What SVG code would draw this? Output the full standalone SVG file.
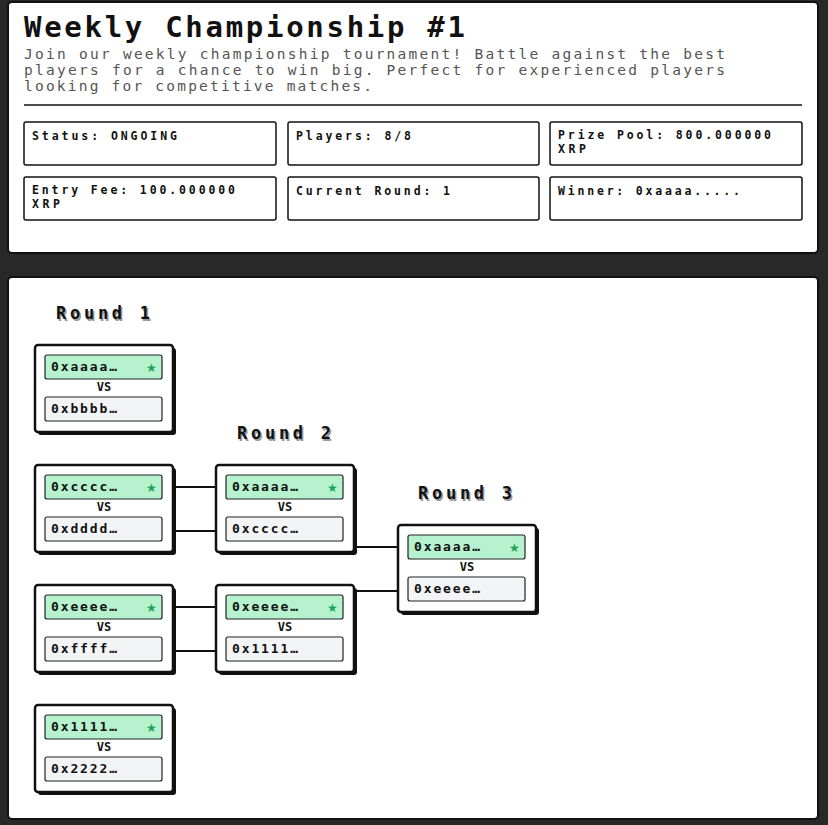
<svg xmlns="http://www.w3.org/2000/svg" width="828" height="825" viewBox="0 0 828 825">
<style>
.panel{fill:#fff;stroke:#111;stroke-width:2}
.stat{fill:#fff;stroke:#111;stroke-width:1.5}
.st{font-family:"DejaVu Sans Mono",monospace;font-weight:bold;font-size:11.5px;fill:#111}
.desc{font-family:"DejaVu Sans Mono",monospace;font-size:14.5px;fill:#555}
.rh{font-family:"DejaVu Sans Mono",monospace;font-weight:bold;font-size:17px;fill:#111}
.rhs{font-family:"DejaVu Sans Mono",monospace;font-weight:bold;font-size:17px;fill:#999}
.mb{fill:#fff;stroke:#111;stroke-width:2.5}
.sh{fill:#111}
.win{fill:#b6f2cd;stroke:#222;stroke-width:1.2}
.los{fill:#f3f4f6;stroke:#222;stroke-width:1.2}
.pt{font-family:"DejaVu Sans Mono",monospace;font-weight:bold;font-size:13px;fill:#111}
.vs{font-family:"DejaVu Sans Mono",monospace;font-weight:bold;font-size:12px;fill:#111;text-anchor:middle}
.star{font-family:"DejaVu Sans",sans-serif;font-size:12px;fill:#22a05a}
.conn line{stroke:#111;stroke-width:2}
</style>
<rect width="828" height="825" fill="#282828"/>
<g id="header">
<rect class="panel" x="8" y="2" width="810" height="251" rx="4"/>
<text x="24" y="37" font-family="DejaVu Sans Mono,monospace" font-weight="bold" font-size="29" fill="#111" textLength="441">Weekly Championship #1</text>
<text class="desc" x="24" y="59" textLength="701">Join our weekly championship tournament! Battle against the best</text>
<text class="desc" x="24" y="75" textLength="701">players for a chance to win big. Perfect for experienced players</text>
<text class="desc" x="24" y="91" textLength="348">looking for competitive matches.</text>
<line x1="24" y1="105" x2="802" y2="105" stroke="#111" stroke-width="1.5"/>
</g>
<g id="stat-status"><rect class="stat" x="24" y="122" width="252" height="43" rx="2"/><text class="st" x="32" y="140" textLength="145">Status: ONGOING</text></g>
<g id="stat-players"><rect class="stat" x="288" y="122" width="251" height="43" rx="2"/><text class="st" x="296" y="140" textLength="115">Players: 8/8</text></g>
<g id="stat-prize"><rect class="stat" x="550" y="122" width="252" height="43" rx="2"/><text class="st" x="558" y="139" textLength="213">Prize Pool: 800.000000</text><text class="st" x="558" y="153" textLength="28">XRP</text></g>
<g id="stat-fee"><rect class="stat" x="24" y="177" width="252" height="43" rx="2"/><text class="st" x="32" y="194" textLength="203">Entry Fee: 100.000000</text><text class="st" x="32" y="208" textLength="28">XRP</text></g>
<g id="stat-round"><rect class="stat" x="288" y="177" width="251" height="43" rx="2"/><text class="st" x="296" y="195" textLength="154">Current Round: 1</text></g>
<g id="stat-winner"><rect class="stat" x="550" y="177" width="252" height="43" rx="2"/><text class="st" x="558" y="195" textLength="182">Winner: 0xaaaa.....</text></g>
<g id="bracket-panel"><rect class="panel" x="8" y="277" width="810" height="542" rx="4"/></g>
<g id="round-headers">
<text class="rhs" x="57.5" y="320.5" textLength="94">Round 1</text><text class="rh" x="56" y="319" textLength="94">Round 1</text>
<text class="rhs" x="238.5" y="440.5" textLength="94">Round 2</text><text class="rh" x="237" y="439" textLength="94">Round 2</text>
<text class="rhs" x="419.5" y="500.5" textLength="94">Round 3</text><text class="rh" x="418" y="499" textLength="94">Round 3</text>
</g>
<g class="conn" id="connectors">
<line x1="174" y1="487" x2="216" y2="487"/><line x1="174" y1="531" x2="216" y2="531"/>
<line x1="174" y1="607" x2="216" y2="607"/><line x1="174" y1="651" x2="216" y2="651"/>
<line x1="356" y1="547" x2="398" y2="547"/><line x1="356" y1="591" x2="398" y2="591"/>
</g>
<defs>
<g id="match">
<rect class="sh" x="3" y="3" width="138" height="87" rx="3"/>
<rect class="mb" x="0" y="0" width="138" height="87" rx="3"/>
<rect class="win" x="10" y="10" width="117" height="24" rx="2"/>
<text class="star" x="111" y="27">★</text>
<text class="vs" x="69" y="46">VS</text>
<rect class="los" x="10" y="52" width="117" height="24" rx="2"/>
</g>
</defs>
<g id="m1-1"><use href="#match" x="35" y="345"/><text class="pt" x="51" y="371" textLength="66">0xaaaa…</text><text class="pt" x="51" y="413" textLength="66">0xbbbb…</text></g>
<g id="m1-2"><use href="#match" x="35" y="465"/><text class="pt" x="51" y="491" textLength="66">0xcccc…</text><text class="pt" x="51" y="533" textLength="66">0xdddd…</text></g>
<g id="m1-3"><use href="#match" x="35" y="585"/><text class="pt" x="51" y="611" textLength="66">0xeeee…</text><text class="pt" x="51" y="653" textLength="66">0xffff…</text></g>
<g id="m1-4"><use href="#match" x="35" y="705"/><text class="pt" x="51" y="731" textLength="66">0x1111…</text><text class="pt" x="51" y="773" textLength="66">0x2222…</text></g>
<g id="m2-1"><use href="#match" x="216" y="465"/><text class="pt" x="232" y="491" textLength="66">0xaaaa…</text><text class="pt" x="232" y="533" textLength="66">0xcccc…</text></g>
<g id="m2-2"><use href="#match" x="216" y="585"/><text class="pt" x="232" y="611" textLength="66">0xeeee…</text><text class="pt" x="232" y="653" textLength="66">0x1111…</text></g>
<g id="m3-1"><use href="#match" x="398" y="525"/><text class="pt" x="414" y="551" textLength="66">0xaaaa…</text><text class="pt" x="414" y="593" textLength="66">0xeeee…</text></g>
</svg>
